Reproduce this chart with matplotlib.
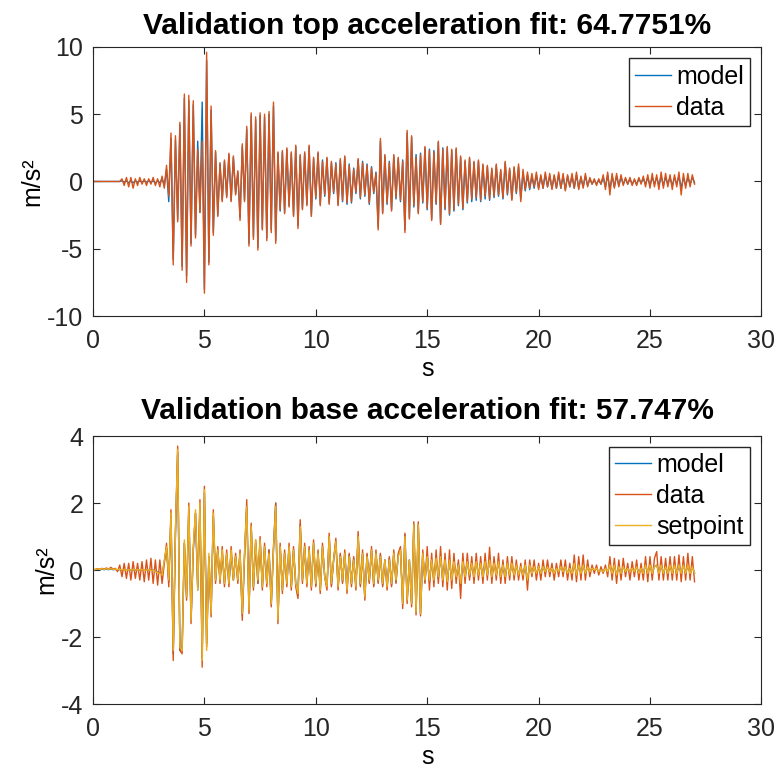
import numpy as np
import matplotlib
matplotlib.use("Agg")
import matplotlib.pyplot as plt

plt.rcParams['font.family'] = ['Liberation Sans', 'DejaVu Sans']
plt.rcParams['axes.unicode_minus'] = False

# sample times, 0.1 s steps from 0 to 27 s
t = np.arange(271) * 0.1

# top acceleration (m/s^2), one row per second
top_data = [
    0, 0, 0, 0, 0, 0, 0, 0, 0, 0,
    0, 0, 0, 0.2, -0.3, 0.3, -0.4, 0.3, -0.5, 0.2,
    -0.3, 0.3, -0.2, 0.2, -0.3, 0.2, -0.2, 0.3, -0.3, 0.2,
    -0.4, 0.4, -0.5, 1.2, -1.1, 3.6, -6.2, 3.4, -3.0, 4.4,
    -6.6, 6.5, -7.5, 6.4, -4.8, 6.0, -4.2, 2.4, -2.3, 3.0,
    -8.3, 9.6, -6.2, 5.6, -4.0, 2.3, -2.6, 1.4, -1.5, 1.6,
    -1.2, 2.1, -1.5, 1.9, -1.0, 0.8, -2.9, 2.8, -1.5, 4.1,
    -4.8, 5.1, -4.3, 4.8, -5.1, 5.1, -3.6, 5.0, -4.4, 5.2,
    -3.8, 5.9, -4.6, 2.2, -2.1, 2.3, -2.4, 2.5, -1.9, 2.2,
    -2.6, 2.7, -3.5, 2.0, -2.1, 2.2, -1.8, 2.7, -2.6, 1.8,
    -1.2, 2.2, -1.8, 1.5, -1.0, 1.8, -1.7, 1.5, -0.8, 1.3,
    -1.8, 1.7, -1.4, 1.9, -1.6, 1.2, -1.5, 0.9, -0.8, 1.7,
    -1.2, 1.4, -1.0, 1.2, -1.6, 1.0, -0.8, 0.6, -3.6, 3.2,
    -2.4, 2.0, -1.6, 1.4, -2.2, 2.0, -1.2, 1.8, -1.4, 1.5,
    -3.8, 3.8, -2.8, 3.4, -1.8, 1.8, -2.4, 2.0, -1.5, 2.6,
    -2.0, 2.3, -2.9, 2.2, -1.6, 3.0, -3.2, 2.4, -2.0, 2.6,
    -2.4, 2.4, -2.1, 2.5, -1.7, 1.9, -2.0, 1.6, -1.5, 1.8,
    -1.3, 1.5, -1.2, 1.6, -1.4, 1.3, -1.1, 1.2, -1.3, 1.0,
    -1.1, 1.3, -1.0, 0.9, -1.2, 1.5, -0.9, 1.0, -1.4, 1.1,
    -0.8, 1.3, -1.5, 0.9, -0.6, 0.7, -0.5, 0.6, -0.4, 0.7,
    -0.6, 0.5, -0.5, 0.7, -0.4, 0.6, -0.6, 0.5, -0.5, 0.7,
    -0.5, 0.6, -0.7, 0.5, -0.4, 0.6, -0.5, 0.7, -0.6, 0.4,
    -0.5, 0.6, -0.4, 0.3, -0.2, 0.2, -0.3, 0.2, -0.2, 0.5,
    -0.6, 0.7, -1.0, 0.6, -0.5, 0.6, -0.4, 0.5, -0.3, 0.3,
    -0.2, 0.3, -0.3, 0.2, -0.3, 0.3, -0.2, 0.4, -0.4, 0.5,
    -0.5, 0.6, -0.4, 0.5, -0.6, 0.7, -0.5, 0.6, -0.4, 0.5,
    -0.6, 0.5, -0.4, 0.7, -1.0, 0.6, -0.5, 0.6, -0.4, 0.5,
    -0.2,
]

top_model = [
    0, 0, 0, 0, 0, 0, 0, 0, 0, 0,
    0, 0, 0, 0.05, -0.05, 0.05, -0.1, 0.05, -0.1, 0.05,
    -0.05, 0.05, -0.05, 0.05, -0.05, 0.05, -0.05, 0.05, -0.1, 0.05,
    -0.1, 0.2, -0.3, 0.9, -1.5, 3.2, -5.8, 3.1, -2.8, 4.2,
    -6.3, 6.2, -7.0, 6.0, -4.6, 5.7, -4.0, 3.0, -2.3, 5.9,
    -8.0, 9.0, -6.0, 5.3, -3.8, 2.2, -2.5, 1.3, -1.4, 1.5,
    -1.1, 2.0, -1.4, 1.8, -0.9, 0.7, -2.7, 2.6, -1.4, 3.9,
    -4.6, 4.9, -4.1, 4.6, -4.9, 4.9, -3.5, 4.8, -4.2, 5.0,
    -3.6, 5.6, -4.4, 2.1, -2.2, 2.2, -2.3, 2.4, -1.8, 2.1,
    -2.5, 2.6, -3.3, 1.9, -2.0, 2.1, -1.7, 2.6, -2.5, 1.7,
    -1.3, 2.1, -1.7, 1.6, -1.1, 1.7, -1.6, 1.4, -0.9, 1.4,
    -1.7, 1.6, -1.5, 1.8, -1.7, 1.3, -1.6, 1.0, -0.9, 1.6,
    -1.3, 1.5, -1.1, 1.3, -1.7, 1.1, -0.9, 0.7, -3.4, 3.0,
    -2.3, 1.9, -1.7, 1.5, -2.1, 1.9, -1.3, 1.7, -1.5, 1.6,
    -3.6, 3.6, -2.7, 3.3, -1.9, 2.0, -2.3, 2.1, -1.6, 2.5,
    -2.1, 2.4, -2.8, 2.3, -1.7, 2.9, -3.1, 2.5, -2.1, 2.5,
    -2.5, 2.3, -2.2, 2.4, -1.8, 1.8, -2.1, 1.5, -1.6, 1.7,
    -1.5, 1.4, -1.4, 1.5, -1.5, 1.2, -1.3, 1.1, -1.4, 0.9,
    -1.2, 1.2, -1.1, 0.8, -1.3, 1.4, -1.0, 0.9, -1.3, 1.0,
    -0.9, 1.1, -1.3, 0.7, -0.7, 0.5, -0.6, 0.4, -0.5, 0.5,
    -0.5, 0.4, -0.5, 0.5, -0.4, 0.4, -0.5, 0.4, -0.5, 0.5,
    -0.5, 0.4, -0.6, 0.4, -0.4, 0.4, -0.5, 0.5, -0.5, 0.3,
    -0.4, 0.4, -0.3, 0.2, -0.2, 0.1, -0.2, 0.1, -0.2, 0.3,
    -0.4, 0.5, -0.6, 0.4, -0.4, 0.4, -0.3, 0.3, -0.2, 0.2,
    -0.2, 0.2, -0.2, 0.1, -0.2, 0.2, -0.1, 0.2, -0.2, 0.3,
    -0.3, 0.3, -0.2, 0.3, -0.3, 0.4, -0.3, 0.3, -0.2, 0.3,
    -0.3, 0.3, -0.2, 0.4, -0.5, 0.3, -0.3, 0.3, -0.2, 0.3,
    -0.1,
]

# base acceleration (m/s^2)
base_data = [
    0, 0.02, 0.04, 0.02, 0.05, 0.03, 0.06, 0.02, 0.08, 0.03,
    0.05, -0.05, 0.15, -0.2, 0.2, -0.25, 0.2, -0.3, 0.25, -0.25,
    0.2, -0.3, 0.25, -0.35, 0.3, -0.3, 0.35, -0.4, 0.3, -0.45,
    0.3, -0.4, 0.2, 0.8, -0.5, 1.8, -2.7, 1.1, 3.7, -2.4,
    -2.5, 0.8, -0.9, 2.0, -1.6, 0.6, 1.7, -0.5, 2.1, -2.9,
    2.5, -2.3, 0.4, -1.4, 1.8, -0.4, 0.7, -0.4, 0.7, -0.5,
    0.6, -0.5, 0.7, -0.3, 0.5, -0.4, 0.6, -1.5, 0.4, 2.1,
    -1.3, 1.4, -0.6, 0.9, -0.4, 1.0, -0.6, 0.8, -0.5, 0.6,
    -1.1, 0.7, 2.0, -1.6, 0.8, -0.7, 0.6, -0.5, 0.8, -0.6,
    0.7, -0.5, -0.85, 1.5, -0.4, 0.8, -0.5, 0.7, -0.6, 0.9,
    -0.5, 0.6, -0.7, 0.8, -0.2, -0.6, 1.1, -0.5, 0.3, 0.95,
    -0.6, 0.5, -0.4, 0.6, -0.7, 0.5, -0.5, 0.4, -0.6, 1.15,
    -0.5, 0.6, -0.9, 0.5, -0.4, 0.7, -0.5, 0.6, -0.4, 0.5,
    -0.5, 0.3, -0.6, 0.4, -0.5, 0.6, -0.4, 0.5, 0.7, -1.15,
    1.1, -1.0, 0.3, -1.1, 1.44, -1.34, 1.44, -1.37, 0.6, -0.4,
    0.7, -0.6, 0.5, -0.5, 0.6, -0.4, 0.7, -0.5, 0.5, -0.6,
    0.6, -0.55, 0.5, -0.4, 0.3, -0.85, 0.5, -0.4, 0.5, -0.3,
    0.4, -0.4, 0.5, -0.3, 0.4, -0.4, 0.5, -0.3, 0.68, -0.4,
    0.4, -0.3, 0.5, -0.4, 0.3, -0.4, 0.4, -0.3, 0.4, -0.3,
    0.3, -0.3, 0.2, -0.3, 0.3, -0.6, 0.3, -0.2, 0.3, -0.3,
    0.2, -0.3, 0.3, -0.2, 0.3, -0.2, 0.2, -0.3, 0.2, -0.2,
    0.3, -0.2, 0.3, -0.3, 0.2, -0.3, 0.45, -0.35, 0.4, -0.3,
    0.45, -0.3, 0.3, -0.2, 0.15, -0.1, 0.15, -0.15, 0.1, -0.1,
    0.15, -0.2, 0.4, -0.3, 0.35, -0.4, 0.3, -0.3, 0.35, -0.2,
    0.2, -0.3, 0.25, -0.2, 0.3, -0.3, 0.2, -0.3, 0.4, -0.35,
    0.4, -0.3, 0.35, 0.55, -0.3, 0.4, -0.3, 0.35, -0.3, 0.4,
    -0.3, 0.4, -0.3, 0.45, -0.35, 0.4, -0.3, 0.5, -0.3, 0.4,
    -0.35,
]

base_model = [
    0, 0.01, 0.02, 0.01, 0.03, 0.01, 0.03, 0.01, 0.03, 0.01,
    0.02, 0, 0.01, -0.01, 0.01, -0.01, 0.01, 0, 0.01, 0,
    0.01, -0.01, 0.01, -0.01, 0, 0.01, -0.01, 0, -0.04, -0.06,
    -0.08, -0.12, 0.25, 0.65, -0.35, 1.6, -2.5, 1.1, 3.5, -2.4,
    -2.3, 0.8, -0.8, 1.8, -1.5, 0.6, 1.7, -0.6, 1.9, -2.6,
    2.3, -2.2, 0.4, -1.3, 1.6, -0.3, 0.6, -0.3, 0.5, -0.4,
    0.5, -0.4, 0.5, -0.3, 0.4, -0.3, 0.5, -1.35, 0.4, 1.9,
    -1.2, 1.3, -0.5, 0.8, -0.4, 0.9, -0.5, 0.7, -0.4, 0.6,
    -1.0, 0.6, 2.0, -1.5, 0.7, -0.6, 0.5, -0.4, 0.7, -0.5,
    0.6, -0.4, -0.75, 1.35, -0.3, 0.7, -0.4, 0.6, -0.5, 0.8,
    -0.45, 0.5, -0.6, 0.7, -0.2, -0.5, 1.0, -0.45, 0.3, 0.85,
    -0.5, 0.45, -0.35, 0.5, -0.6, 0.45, -0.4, 0.35, -0.5, 1.0,
    -0.45, 0.5, -0.8, 0.45, -0.35, 0.6, -0.45, 0.5, -0.35, 0.45,
    -0.45, 0.3, -0.5, 0.35, -0.45, 0.5, -0.35, 0.45, 0.6, -1.0,
    1.05, -0.9, 0.3, -1.0, 1.35, -1.25, 1.35, -1.3, 0.5, -0.35,
    0.45, -0.35, 0.3, -0.3, 0.35, -0.25, 0.4, -0.3, 0.3, -0.35,
    0.3, -0.3, 0.25, -0.2, 0.2, -0.45, 0.25, -0.2, 0.25, -0.2,
    0.2, -0.2, 0.25, -0.15, 0.2, -0.2, 0.25, -0.15, 0.3, -0.2,
    0.2, -0.15, 0.25, -0.2, 0.15, -0.2, 0.2, -0.15, 0.2, -0.15,
    0.15, -0.15, 0.1, -0.15, 0.15, -0.3, 0.15, -0.1, 0.1, -0.1,
    0.1, -0.1, 0.1, -0.05, 0.1, -0.05, 0.05, -0.1, 0.05, -0.05,
    0.1, -0.05, 0.1, -0.1, 0.05, -0.1, 0.2, -0.15, 0.15, -0.1,
    0.15, -0.1, 0.1, -0.05, 0.05, 0, 0.05, -0.05, 0, -0.05,
    0.05, -0.05, 0.15, -0.1, 0.15, -0.15, 0.1, -0.1, 0.1, -0.05,
    0.05, -0.05, 0.05, -0.05, 0.1, -0.1, 0.05, -0.1, 0.15, -0.1,
    0.15, -0.1, 0.1, 0.15, -0.1, 0.15, -0.1, 0.1, -0.1, 0.15,
    -0.1, 0.15, -0.1, 0.15, -0.1, 0.15, -0.1, 0.15, -0.1, 0.1,
    -0.1,
]

base_setpoint = [
    0, 0.02, 0.03, 0.02, 0.04, 0.02, 0.04, 0.02, 0.04, 0.02,
    0.03, 0.01, 0.02, 0, 0.01, -0.01, 0.01, 0, 0.01, 0,
    0.01, 0, 0.01, -0.01, 0, 0.01, -0.02, 0, -0.05, -0.08,
    -0.1, -0.15, 0.3, 0.7, -0.3, 1.7, -2.4, 1.2, 3.6, -2.3,
    -2.4, 0.9, -0.8, 1.9, -1.5, 0.7, 1.8, -0.6, 2.0, -2.7,
    2.4, -2.4, 0.5, -1.3, 1.7, -0.3, 0.6, -0.3, 0.6, -0.4,
    0.5, -0.4, 0.6, -0.3, 0.4, -0.3, 0.5, -1.3, 0.5, 1.9,
    -1.2, 1.3, -0.5, 0.9, -0.3, 0.9, -0.5, 0.7, -0.4, 0.5,
    -1.0, 0.6, 1.9, -1.5, 0.7, -0.6, 0.5, -0.4, 0.7, -0.5,
    0.6, -0.4, -0.7, 1.3, -0.3, 0.7, -0.4, 0.6, -0.5, 0.8,
    -0.4, 0.5, -0.6, 0.7, -0.2, -0.5, 1.0, -0.4, 0.3, 0.85,
    -0.5, 0.4, -0.3, 0.5, -0.6, 0.4, -0.4, 0.3, -0.5, 1.0,
    -0.4, 0.5, -0.8, 0.4, -0.3, 0.6, -0.4, 0.5, -0.3, 0.4,
    -0.4, 0.3, -0.5, 0.3, -0.4, 0.5, -0.3, 0.4, 0.6, -1.0,
    1.0, -0.9, 0.3, -1.0, 1.35, -1.25, 1.35, -1.3, 0.5, -0.3,
    0.4, -0.3, 0.3, -0.3, 0.35, -0.2, 0.4, -0.3, 0.3, -0.35,
    0.3, -0.3, 0.25, -0.2, 0.15, -0.4, 0.25, -0.2, 0.25, -0.15,
    0.2, -0.2, 0.25, -0.15, 0.2, -0.2, 0.25, -0.15, 0.3, -0.2,
    0.2, -0.15, 0.25, -0.2, 0.15, -0.2, 0.2, -0.15, 0.2, -0.15,
    0.15, -0.15, 0.1, -0.15, 0.15, -0.3, 0.15, -0.1, 0.1, -0.1,
    0.1, -0.1, 0.1, -0.05, 0.1, -0.05, 0.05, -0.1, 0.05, -0.05,
    0.1, -0.05, 0.1, -0.1, 0.05, -0.1, 0.2, -0.15, 0.15, -0.1,
    0.15, -0.1, 0.1, -0.05, 0.05, 0, 0.05, -0.05, 0, -0.05,
    0.05, -0.05, 0.15, -0.1, 0.15, -0.15, 0.1, -0.1, 0.1, -0.05,
    0.05, -0.05, 0.05, -0.05, 0.1, -0.1, 0.05, -0.1, 0.15, -0.1,
    0.15, -0.1, 0.1, 0.15, -0.1, 0.15, -0.1, 0.1, -0.1, 0.15,
    -0.1, 0.15, -0.1, 0.15, -0.1, 0.15, -0.1, 0.15, -0.1, 0.1,
    -0.1,
]

c_model = '#0072BD'
c_data = '#D95319'
c_set = '#EDB120'
lw = 1.0

fig = plt.figure(figsize=(7.79, 7.69), dpi=100)
ax1 = fig.add_axes([0.1194, 0.589, 0.858, 0.350])
ax2 = fig.add_axes([0.1194, 0.0845, 0.858, 0.3485])


def style(ax, ylim, yticks):
    ax.set_xlim(0, 30)
    ax.set_ylim(*ylim)
    ax.set_xticks([0, 5, 10, 15, 20, 25, 30])
    ax.set_yticks(yticks)
    ax.tick_params(direction='in', length=5, width=0.8, labelsize=18,
                   top=True, right=True, colors='#262626')
    ax.tick_params(axis='x', pad=9)
    ax.tick_params(axis='y', pad=7)
    for s in ax.spines.values():
        s.set_color('#262626')
        s.set_linewidth(0.8)
    ax.set_xlabel('s', fontsize=18, labelpad=3)
    ax.set_ylabel('m/s²', fontsize=18, labelpad=2)


leg_kw = dict(loc='upper right', fontsize=18, fancybox=False,
              edgecolor='#262626', framealpha=1, handlelength=1.45,
              handletextpad=0.2, borderpad=0.25, labelspacing=0.28,
              borderaxespad=0)

ax1.plot(t, top_model, color=c_model, lw=lw, label='model')
ax1.plot(t, top_data, color=c_data, lw=lw, label='data')
style(ax1, (-10, 10), [-10, -5, 0, 5, 10])
ax1.set_title('Validation top acceleration fit: 64.7751%', fontsize=21.5,
              fontweight='bold', pad=9)
ax1.legend(bbox_to_anchor=(0.983, 0.957), **leg_kw)

ax2.plot(t, base_model, color=c_model, lw=lw, label='model')
ax2.plot(t, base_data, color=c_data, lw=lw, label='data')
ax2.plot(t, base_setpoint, color=c_set, lw=lw, label='setpoint')
style(ax2, (-4, 4), [-4, -2, 0, 2, 4])
ax2.set_title('Validation base acceleration fit: 57.747%', fontsize=21.5,
              fontweight='bold', pad=12)
ax2.legend(bbox_to_anchor=(0.983, 0.96), **leg_kw)

fig.savefig('out.png', dpi=100)
